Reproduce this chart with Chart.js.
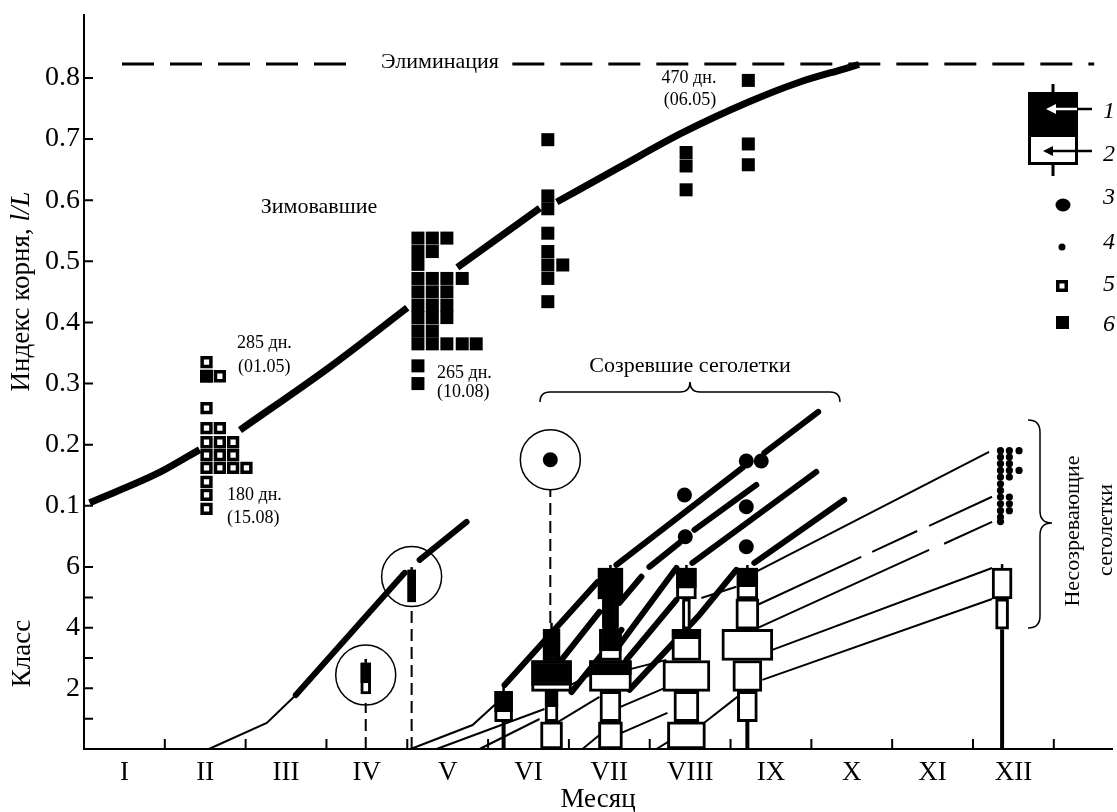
<!DOCTYPE html>
<html><head><meta charset="utf-8">
<script src="https://cdn.jsdelivr.net/npm/chart.js@4"></script>
<style>html,body{margin:0;padding:0;background:#fff}canvas{display:block}</style>
</head><body>
<canvas id="c" width="1117" height="812"></canvas>
<script>
// ---------------- DATA ----------------
const MONTHS = ['I','II','III','IV','V','VI','VII','VIII','IX','X','XI','XII'];
const ROOT_TICKS = [0.1,0.2,0.3,0.4,0.5,0.6,0.7,0.8];
const CLASS_TICKS = [1,2,3,4,5,6];

// overwintered fish: root index growth curve (null = gap)
const curveMonth = [0.07,0.94,1.43,null,1.93,3.04,4.00,null,4.62,5.64,null,5.85,6.60,7.40,8.23,8.85,9.41,9.59];
const curveIndex = [0.105,0.155,0.192,null,0.224,0.327,0.424,null,0.490,0.587,null,0.597,0.652,0.710,0.761,0.793,0.815,0.822];

// elimination level
const elimMonth = [0.47,3.29,null,5.30,12.5];
const elimIndex = [0.823,0.823,null,0.823,0.823];

// open squares (5)
const openSqMonth = [1.516,1.681,1.516,1.516,1.681,1.516,1.681,1.845,1.516,1.681,1.845,1.516,1.681,1.845,2.010,1.516,1.516,1.516];
const openSqIndex = [0.335,0.312,0.260,0.227,0.227,0.204,0.204,0.204,0.183,0.183,0.183,0.162,0.162,0.162,0.162,0.139,0.118,0.095];

// filled squares (6)
const fillSqMonth = [1.516,
  4.132,4.310,4.490, 4.132,4.310, 4.132, 4.132,4.310,4.490,4.680, 4.132,4.310,4.490, 4.132,4.310,4.490, 4.132,4.310,4.490, 4.132,4.310, 4.132,4.310,4.490,4.680,4.853, 4.132, 4.132,
  5.739,5.739,5.739,5.739,5.739,5.739,5.924,5.739,5.739,
  7.45,7.45,7.45, 8.22,8.22,8.22];
const fillSqIndex = [0.312,
  0.538,0.538,0.538, 0.516,0.516, 0.495, 0.472,0.472,0.472,0.472, 0.450,0.450,0.450, 0.428,0.428,0.428, 0.408,0.408,0.408, 0.386,0.386, 0.365,0.365,0.365,0.365,0.365, 0.329, 0.300,
  0.699,0.607,0.586,0.546,0.516,0.494,0.494,0.472,0.434,
  0.678,0.656,0.617, 0.796,0.692,0.658];

// large dots (3), class scale
const bigDotMonth = [5.77,7.43,7.44,8.195,8.38,8.195,8.195];
const bigDotClass = [9.54,8.38,7.00,9.50,9.50,7.99,6.67];

// small dots (4), class scale, December
const smallDotMonth = [11.34,11.45,11.57, 11.34,11.45, 11.34,11.45, 11.34,11.45,11.57, 11.34,11.45, 11.34, 11.34, 11.34,11.45, 11.34,11.45, 11.34,11.45, 11.34, 11.34];
const smallDotClass = [9.84,9.84,9.84, 9.63,9.63, 9.41,9.41, 9.19,9.19,9.19, 8.97,8.97, 8.75, 8.53, 8.31,8.31, 8.09,8.09, 7.86,7.86, 7.65, 7.50];

// size-class boxes: month, class range, relative abundance, mature share (black, from top)
const boxMonth  = [5.192, 5.785,5.785,5.785,5.785, 6.514,6.514,6.514,6.514,6.514,6.514, 7.454,7.454,7.454,7.454,7.454,7.454, 8.208,8.208,8.208,8.208,8.208, 11.36,11.36, 3.486, 4.054];
const boxLo     = [0.90, 0,0.90,1.90,2.92, 0,0.90,1.90,2.92,3.95,4.95, 0,0.90,1.90,2.92,3.95,4.95, 0.90,1.90,2.92,3.95,4.95, 3.95,4.95, 1.82, 4.85];
const boxHi     = [1.90, 0.90,1.90,2.92,3.95, 0.90,1.90,2.92,3.95,4.95,5.97, 0.90,1.90,2.92,3.95,4.95,5.97, 1.90,2.92,3.95,4.95,5.97, 4.95,5.97, 2.84, 5.91];
const boxN      = [9, 11,6.5,20,8.5, 12,10.5,21,11,8,12.5, 19,12.5,23.5,14.5,4,10, 10,14.5,25.5,11.5,10.5, 6.5,10, 5, 4];
const boxMature = [0.67, 0,0.5,0.81,1, 0,0,0.47,0.69,0.93,1, 0,0,0,0.3,0,0.65, 0,0,0,0,0.6, 0,0, 0.65, 1];

// whiskers (range tips) and stems
const whiskMonth = [5.192,5.785,6.514,7.454,8.208,11.36,3.486,4.054];
const whiskLo    = [1.90,3.95,5.97,5.97,5.97,5.97,2.84,5.91];
const whiskHi    = [2.18,4.16,6.07,6.07,6.07,6.10,2.97,6.00];
const stemMonth = [5.192,8.208,11.36];
const stemLo    = [0,0,0];
const stemHi    = [0.90,0.90,3.95];

// circled samples and their drop lines
const ringMonth = [3.486,4.054,5.77];
const ringClass = [2.44,5.69,9.54];
const dropHi    = [1.52,4.55,8.55];

// maturing cohort trajectories (class vs month); null = gap
const matureMonth = [
  [2.621,3.968,null,4.153,4.734],
  [5.204,6.354],
  [5.908,6.378],
  [6.032,6.650],
  [6.712,7.330],
  [6.749,7.614,8.072],
  [6.625,7.330],
  [6.588,8.146,null,8.418,9.085],
  [6.625,6.897,null,6.996,7.367,null,7.553,8.319],
  [7.528,9.061],
  [8.294,9.407]
];
const matureClass = [
  [1.78,5.81,null,6.24,7.49],
  [2.11,5.51],
  [2.94,4.52],
  [1.88,3.93],
  [2.94,4.92],
  [1.95,4.42,5.91],
  [3.43,5.97],
  [6.07,9.27,null,9.77,11.12],
  [4.82,5.68,null,6.01,6.80,null,7.23,8.71],
  [6.14,9.14],
  [6.14,8.22]
];
// non-maturing cohort trajectories
const immatureMonth = [
  [1.545,2.262,2.621],
  [4.042,4.808,5.192],
  [4.363,5.698],
  [4.895,5.637],
  [5.908,6.378],
  [5.847,6.378],
  [6.168,6.378],
  [6.724,7.206],
  [6.638,7.219],
  [6.650,7.219],
  [7.083,7.268],
  [7.639,8.072],
  [7.639,8.084],
  [8.331,11.199],
  [8.331,9.617,null,9.753,10.309,null,10.457,11.236],
  [8.331,10.457,null,10.643,11.236],
  [8.517,11.236],
  [8.393,11.236]
];
const immatureClass = [
  [0,0.86,1.78],
  [0,0.79,1.72],
  [0,1.32],
  [0,0.99],
  [1.95,2.61],
  [0.86,1.72],
  [0,0.46],
  [2.61,2.94],
  [1.39,2.05],
  [0.53,1.19],
  [0,0.30],
  [4.98,5.35],
  [0.79,1.72],
  [5.87,9.80],
  [4.75,6.34,null,6.50,7.19,null,7.36,8.32],
  [3.99,6.57,null,6.77,7.49],
  [3.27,5.97],
  [2.28,4.95]
];

// ---------------- BUILD ----------------
const FONT = "'Liberation Serif','DejaVu Serif',serif";
function pts(xs, ys){ return xs.map((x,i)=>({x: x===null ? (xs[i-1]||0) : x, y: ys[i]})); }
const datasets = [];
const base = (axis)=>({yAxisID:axis, xAxisID:'x', clip:false});

datasets.push({type:'line', ...base('yTop'), data:pts(curveMonth,curveIndex),
  borderColor:'#000', borderWidth:7, pointRadius:0, cubicInterpolationMode:'monotone', spanGaps:false, borderCapStyle:'butt', order:5});
datasets.push({type:'line', ...base('yTop'), data:pts(elimMonth,elimIndex),
  borderColor:'#000', borderWidth:3, borderDash:[32,16], pointRadius:0, spanGaps:false, order:5});

matureMonth.forEach((m,i)=>datasets.push({type:'line', ...base('yBot'), data:pts(m,matureClass[i]),
  borderColor:'#000', borderWidth:6, pointRadius:0, spanGaps:false, borderCapStyle:'round', order:6}));
immatureMonth.forEach((m,i)=>datasets.push({type:'line', ...base('yBot'), data:pts(m,immatureClass[i]),
  borderColor:'#000', borderWidth:2, pointRadius:0, spanGaps:false, order:6}));

ringMonth.forEach((m,i)=>datasets.push({type:'line', ...base('yBot'), data:[{x:m,y:0},{x:m,y:dropHi[i]}],
  borderColor:'#000', borderWidth:2, borderDash:[12,6], pointRadius:0, order:6}));
stemMonth.forEach((m,i)=>datasets.push({type:'line', ...base('yBot'), data:[{x:m,y:stemLo[i]},{x:m,y:stemHi[i]}],
  borderColor:'#000', borderWidth:4, pointRadius:0, order:4}));
whiskMonth.forEach((m,i)=>datasets.push({type:'line', ...base('yBot'), data:[{x:m,y:whiskLo[i]},{x:m,y:whiskHi[i]}],
  borderColor:'#000', borderWidth:2.5, pointRadius:0, order:4}));

boxMonth.forEach((m,i)=>{
  const w = boxN[i]*2;
  datasets.push({type:'bar', ...base('yBot'), data:[{x:m, y:[boxLo[i],boxHi[i]]}], grouped:false,
    barThickness:w, backgroundColor:'#fff', borderColor:'#000', borderWidth:3, borderSkipped:false, order:3});
  if (boxMature[i]>0){
    const top = boxHi[i], bot = boxHi[i]-(boxHi[i]-boxLo[i])*boxMature[i];
    datasets.push({type:'bar', ...base('yBot'), data:[{x:m, y:[bot,top]}], grouped:false,
      barThickness:w, backgroundColor:'#000', borderColor:'#000', borderWidth:3, borderSkipped:false, order:2});
  }
});

datasets.push({type:'scatter', ...base('yBot'), data:pts(ringMonth,ringClass),
  pointRadius:30, pointBackgroundColor:'rgba(0,0,0,0)', pointBorderColor:'#000', pointBorderWidth:1.5, order:1});
datasets.push({type:'scatter', ...base('yBot'), data:pts(bigDotMonth,bigDotClass),
  pointRadius:7.5, pointBackgroundColor:'#000', pointBorderWidth:0, order:0});
datasets.push({type:'scatter', ...base('yBot'), data:pts(smallDotMonth,smallDotClass),
  pointRadius:3.6, pointBackgroundColor:'#000', pointBorderWidth:0, order:0});
datasets.push({type:'scatter', ...base('yTop'), data:pts(openSqMonth,openSqIndex),
  pointStyle:'rect', pointRadius:6.2, pointBackgroundColor:'#fff', pointBorderColor:'#000', pointBorderWidth:3.5, order:0});
datasets.push({type:'scatter', ...base('yTop'), data:pts(fillSqMonth,fillSqIndex),
  pointStyle:'rect', pointRadius:9.2, pointBackgroundColor:'#000', pointBorderWidth:0, order:0});

// ---------------- DECORATION PLUGIN ----------------
function brace(ctx, x1, x2, y, xm, d){
  ctx.beginPath();
  ctx.moveTo(x1, y+d);
  ctx.quadraticCurveTo(x1, y, x1+d, y);
  ctx.lineTo(xm-d, y);
  ctx.quadraticCurveTo(xm, y, xm, y-d);
  ctx.quadraticCurveTo(xm, y, xm+d, y);
  ctx.lineTo(x2-d, y);
  ctx.quadraticCurveTo(x2, y, x2, y+d);
  ctx.stroke();
}
function vbrace(ctx, y1, y2, x, ym, d){
  ctx.beginPath();
  ctx.moveTo(x-d, y1);
  ctx.quadraticCurveTo(x, y1, x, y1+d);
  ctx.lineTo(x, ym-d);
  ctx.quadraticCurveTo(x, ym, x+d, ym);
  ctx.quadraticCurveTo(x, ym, x, ym+d);
  ctx.lineTo(x, y2-d);
  ctx.quadraticCurveTo(x, y2, x-d, y2);
  ctx.stroke();
}
const deco = {
  id:'deco',
  afterDraw(chart){
    const ctx = chart.ctx, {x, yTop, yBot} = chart.scales;
    ctx.save();
    ctx.strokeStyle='#000'; ctx.fillStyle='#000'; ctx.lineWidth=2;
    ctx.beginPath();
    for (const s of [yTop,yBot]) for (const t of s.ticks){ const py=s.getPixelForValue(t.value); ctx.moveTo(s.right,py); ctx.lineTo(s.right+9,py); }
    for (let m=1;m<=12;m++){ const px=x.getPixelForValue(m); ctx.moveTo(px,x.top); ctx.lineTo(px,x.top-10); }
    ctx.stroke();
    ctx.textBaseline='middle';
    ctx.save(); ctx.translate(22,(yTop.top+yTop.bottom)/2+10); ctx.rotate(-Math.PI/2);
    const a='Индекс корня, ', b='l/L';
    ctx.font = `27px ${FONT}`; const wa=ctx.measureText(a).width;
    ctx.font = `italic 27px ${FONT}`; const wb=ctx.measureText(b).width;
    ctx.textAlign='left';
    ctx.font = `27px ${FONT}`; ctx.fillText(a,-(wa+wb)/2,0);
    ctx.font = `italic 27px ${FONT}`; ctx.fillText(b,-(wa+wb)/2+wa,0);
    ctx.restore();
    ctx.save(); ctx.translate(23,(yBot.top+yBot.bottom)/2+5); ctx.rotate(-Math.PI/2);
    ctx.textAlign='center'; ctx.font=`27px ${FONT}`; ctx.fillText('Класс',0,0); ctx.restore();
    ctx.textAlign='center'; ctx.font=`27px ${FONT}`; ctx.fillText('Месяц',(x.left+x.right)/2,800);
    const notes = [
      ['Элиминация',440,62,22,'center'],['Зимовавшие',319,207,22,'center'],
      ['285 дн.',237,343,18,'left'],['(01.05)',238,367,18,'left'],
      ['180 дн.',227,495,18,'left'],['(15.08)',227,518,18,'left'],
      ['265 дн.',437,373,18,'left'],['(10.08)',437,392,18,'left'],
      ['470 дн.',689,78,18,'center'],['(06.05)',690,100,18,'center'],
      ['Созревшие сеголетки',690,366,22,'center']
    ];
    for (const [t,px,py,sz,al] of notes){ ctx.font=`${sz}px ${FONT}`; ctx.textAlign=al; ctx.fillText(t,px,py); }
    ctx.save(); ctx.font=`22px ${FONT}`; ctx.textAlign='center';
    ctx.translate(1073,531); ctx.rotate(-Math.PI/2); ctx.fillText('Несозревающие',0,0); ctx.restore();
    ctx.save(); ctx.font=`22px ${FONT}`; ctx.textAlign='center';
    ctx.translate(1106,530); ctx.rotate(-Math.PI/2); ctx.fillText('сеголетки',0,0); ctx.restore();
    ctx.lineWidth=1.5;
    brace(ctx, 540, 840, 392, 690, 10);
    vbrace(ctx, 420, 628, 1040, 523, 12);
    // legend
    ctx.lineWidth=3;
    ctx.fillStyle='#000'; ctx.fillRect(1028,92,50,45);
    ctx.fillStyle='#fff'; ctx.fillRect(1029.5,137,47,26.5);
    ctx.strokeRect(1029.5,93.5,47,70);
    ctx.beginPath(); ctx.moveTo(1053,84); ctx.lineTo(1053,92); ctx.moveTo(1053,165); ctx.lineTo(1053,176); ctx.stroke();
    ctx.lineWidth=2.5;
    ctx.strokeStyle='#fff'; ctx.beginPath(); ctx.moveTo(1052,109); ctx.lineTo(1077,109); ctx.stroke();
    ctx.fillStyle='#fff'; ctx.beginPath(); ctx.moveTo(1046,109); ctx.lineTo(1056,104); ctx.lineTo(1056,114); ctx.closePath(); ctx.fill();
    ctx.strokeStyle='#000'; ctx.beginPath(); ctx.moveTo(1078,109); ctx.lineTo(1092,109); ctx.stroke();
    ctx.beginPath(); ctx.moveTo(1050,151); ctx.lineTo(1092,151); ctx.stroke();
    ctx.fillStyle='#000'; ctx.beginPath(); ctx.moveTo(1043,151); ctx.lineTo(1053,146); ctx.lineTo(1053,156); ctx.closePath(); ctx.fill();
    ctx.beginPath(); ctx.ellipse(1063,205,7.5,6.5,0,0,Math.PI*2); ctx.fill();
    ctx.beginPath(); ctx.arc(1062,247,3.5,0,Math.PI*2); ctx.fill();
    ctx.lineWidth=3.5; ctx.fillStyle='#fff'; ctx.fillRect(1056,280,12,12); ctx.strokeRect(1057.75,281.75,8.5,8.5);
    ctx.fillStyle='#000'; ctx.fillRect(1056,316,13,13);
    ctx.font=`italic 24px ${FONT}`; ctx.textAlign='left';
    [['1',112],['2',155],['3',198],['4',243],['5',285],['6',325]].forEach(([t,py])=>ctx.fillText(t,1103,py));
    ctx.restore();
  }
};

new Chart(document.getElementById('c'), {
  type:'scatter',
  data:{datasets},
  options:{
    responsive:false, animation:false, devicePixelRatio:1,
    layout:{autoPadding:false, padding:{left:0,right:5,top:15,bottom:0}},
    plugins:{legend:{display:false}, tooltip:{enabled:false}},
    scales:{
      x:{type:'linear', position:'bottom', min:0, max:12.72, offset:false,
        grid:{display:false, drawTicks:false}, border:{display:true,color:'#000',width:2},
        afterBuildTicks:s=>{ s.ticks = MONTHS.map((m,i)=>({value:i+0.5})); },
        afterFit:s=>{ s.height = 63; s.paddingLeft = 0; s.paddingRight = 0; },
        ticks:{autoSkip:false, maxRotation:0, padding:8, color:'#000', font:{family:FONT,size:27},
          callback:(v,i)=>MONTHS[i]}},
      yBot:{type:'linear', position:'left', stack:'v', stackWeight:201, min:0, max:6.63,
        grid:{display:false, drawTicks:false}, border:{display:true,color:'#000',width:2},
        afterBuildTicks:s=>{ s.ticks = CLASS_TICKS.map(v=>({value:v})); },
        afterFit:s=>{ s.width = 84; s.paddingTop = 0; s.paddingBottom = 0; },
        ticks:{autoSkip:false, padding:4, color:'#000', font:{family:FONT,size:28}, callback:v=>(v%2===0?String(v):'')}},
      yTop:{type:'linear', position:'left', stack:'v', stackWeight:533, min:0.031, max:0.903,
        grid:{display:false, drawTicks:false}, border:{display:true,color:'#000',width:2},
        afterBuildTicks:s=>{ s.ticks = ROOT_TICKS.map(v=>({value:v})); },
        afterFit:s=>{ s.width = 84; s.paddingTop = 0; s.paddingBottom = 0; },
        ticks:{autoSkip:false, padding:4, color:'#000', font:{family:FONT,size:28}, callback:v=>v.toFixed(1)}}
    }
  },
  plugins:[deco]
});
</script></body></html>
